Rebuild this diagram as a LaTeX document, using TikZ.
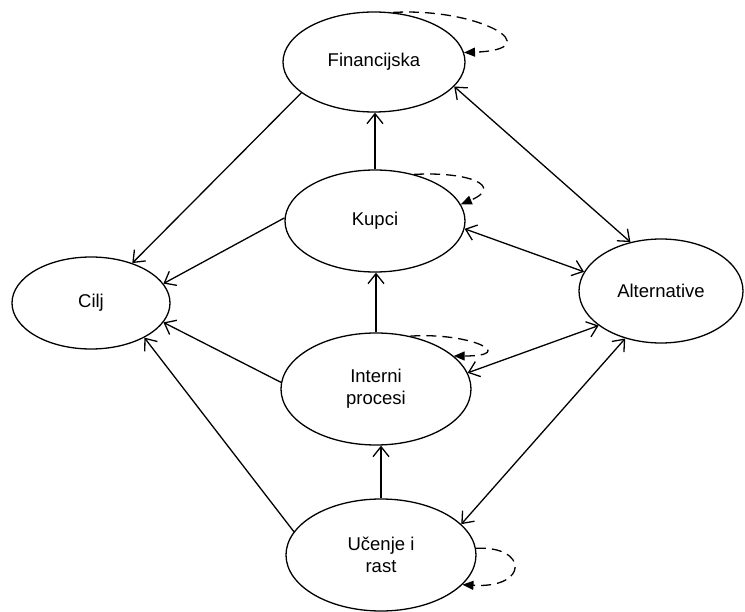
\documentclass[tikz,border=0pt]{standalone}
\usepackage{fontspec}
\setmainfont{Liberation Sans}
\usetikzlibrary{arrows.meta,shapes.geometric}

\begin{document}
\begin{tikzpicture}[x=1pt,y=-1pt,
  persp/.style={draw,ellipse,line width=1.3pt,inner sep=0pt,align=center,
    font=\fontsize{18.5}{22}\selectfont},
  link/.style={line width=1.3pt,-{Straight Barb[length=10pt,width=16pt,line width=1.3pt]}},
  both/.style={line width=1.3pt,{Straight Barb[length=10pt,width=16pt,line width=1.3pt]}-{Straight Barb[length=10pt,width=16pt,line width=1.3pt]}},
  selfloop/.style={line width=1.3pt,dash pattern=on 10pt off 6pt,-{Triangle[length=11pt,width=9pt]}}]

%%% HELP LINES - uncomment to design/extend
% \draw[step=50,gray,very thin] (0,0) grid (745,612);

\useasboundingbox (0,0) rectangle (745,612);

% perspectives
\node[persp,minimum width=182pt,minimum height=100pt] (fin) at (374,62) {Financijska};
\node[persp,minimum width=180pt,minimum height=102pt] (kup) at (375,221) {Kupci};
\node[persp,minimum width=190pt,minimum height=112pt] (int) at (376,389) {Interni\\procesi};
\node[persp,minimum width=190pt,minimum height=112pt] (uc) at (381,555) {Učenje i\\rast};

% goal and alternatives
\node[persp,minimum width=158pt,minimum height=92pt] (cilj) at (91,303) {Cilj};
\node[persp,minimum width=164pt,minimum height=104pt] (alt) at (661,291) {Alternative};

% towards the goal
\draw[link] (fin.203) -- (cilj.44);
\draw[link] (kup.178) -- (cilj.15);
\draw[link] (int.176) -- (cilj.345);
\draw[link] (uc.165) -- (cilj.327);

% upward chain
\draw[link] (kup.north) -- (kup.north |- fin.south);
\draw[link] (int.north) -- (int.north |- kup.south);
\draw[link] (uc.north) -- (uc.north |- int.south);

% alternatives
\draw[both] (fin.343) -- (alt.122);
\draw[both] (kup.355) -- (alt.166);
\draw[both] (int.10) -- (alt.209);
\draw[both] (uc.21) -- (alt.233);

% feedback loops
\draw[selfloop] (fin.69) .. controls +(87,-5) and +(87,-3) .. (fin.6);
\draw[selfloop] (kup.50) .. controls +(56,-3) and +(43,-18) .. (kup.11);
\draw[selfloop] (int.57) .. controls +(60,-4) and +(65,0) .. (int.23);
\draw[selfloop] (uc.4) .. controls +(52,-3) and +(67,4) .. (uc.-20);

\end{tikzpicture}
\end{document}
